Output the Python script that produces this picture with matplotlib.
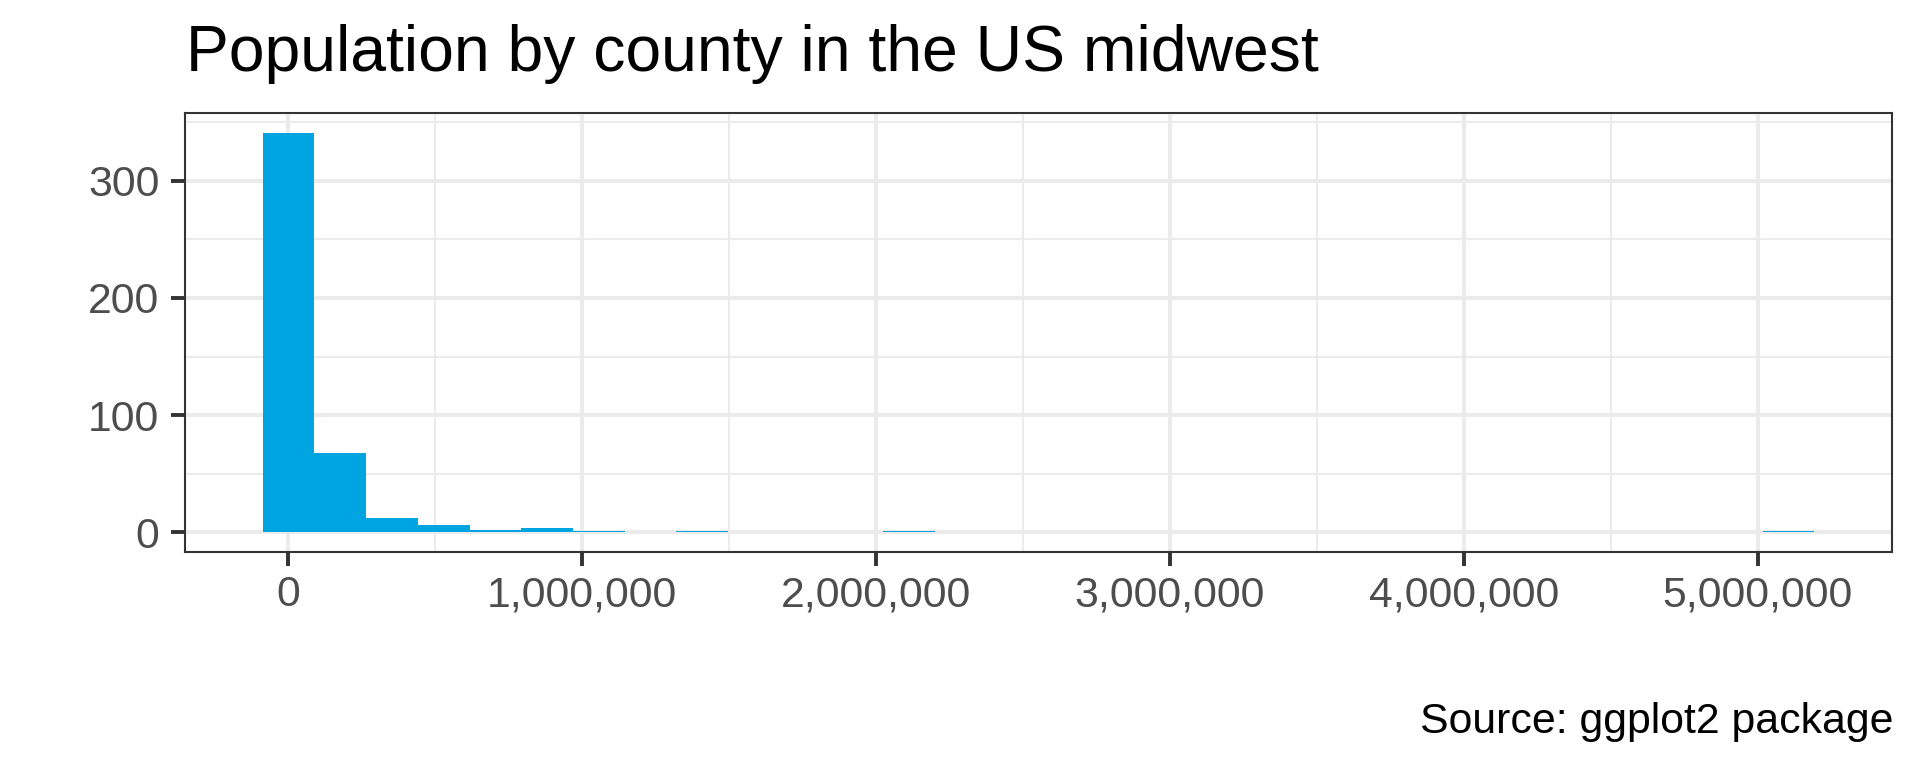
import numpy as np
import matplotlib
matplotlib.use("Agg")
import matplotlib.pyplot as plt
from matplotlib.ticker import FuncFormatter, MultipleLocator

plt.rcParams['font.family'] = ['Liberation Sans', 'DejaVu Sans']

# ---- data ----
pop_min = 1701
pop_max = 5105067
n_bins = 30
counts = [341, 68, 12, 6, 2, 4, 1, 0, 1, 0,
          0, 0, 1, 0, 0, 0, 0, 0, 0, 0,
          0, 0, 0, 0, 0, 0, 0, 0, 0, 1]
x_ticks = [0, 1000000, 2000000, 3000000, 4000000, 5000000]
y_ticks = [0, 100, 200, 300]
title = "Population by county in the US midwest"
caption = "Source: ggplot2 package"

binwidth = (pop_max - pop_min) / (n_bins - 1)
centers = pop_min + binwidth * np.arange(n_bins)

W, H = 1920, 768
fig = plt.figure(figsize=(W / 100, H / 100), dpi=100)
ax = fig.add_axes([185 / W, 1 - 552.3 / H, (1892 - 185) / W, (552.3 - 112.7) / H])

ax.bar(centers, counts, width=binwidth, color="#00A4E1", linewidth=0, zorder=3)

# ggplot-like expansion
x0 = centers[0] - binwidth / 2
x1 = centers[-1] + binwidth / 2
xr = x1 - x0
ax.set_xlim(x0 - 0.05 * xr, x1 + 0.05 * xr)
ymax = max(counts)
ax.set_ylim(-0.05 * ymax, ymax * 1.05)

ax.set_xticks(x_ticks)
ax.set_yticks(y_ticks)
ax.xaxis.set_minor_locator(MultipleLocator(500000))
ax.yaxis.set_minor_locator(MultipleLocator(50))
ax.xaxis.set_major_formatter(FuncFormatter(lambda v, p: f"{int(round(v)):,}"))

ax.grid(which='major', color='#EBEBEB', linewidth=2.9, zorder=0)
ax.grid(which='minor', color='#EBEBEB', linewidth=1.45, zorder=0)
ax.set_axisbelow(True)

for s in ax.spines.values():
    s.set_color('#333333')
    s.set_linewidth(1.5)
    s.set_zorder(5)

ax.tick_params(axis='both', which='major', length=10, width=2.8, color='#333333',
               labelcolor='#4D4D4D', labelsize=30.8)
ax.tick_params(axis='x', which='major', pad=6.5)
ax.tick_params(axis='y', which='major', pad=8.5)
ax.tick_params(which='minor', length=0)

fig.text(186 / W, 1 - 71 / H, title, fontsize=46.3, color='black', ha='left', va='baseline')
fig.text(1893.5 / W, 1 - 732.5 / H, caption, fontsize=30.8, color='black', ha='right', va='baseline')

fig.savefig("out.png", dpi=100, facecolor='white')
